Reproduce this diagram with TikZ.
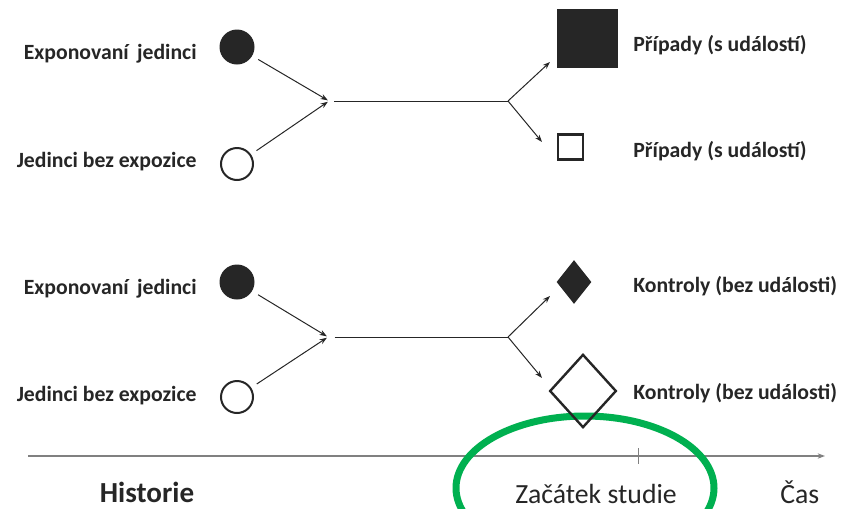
\documentclass[tikz,border=0pt]{standalone}
\usepackage{fontspec}
\setmainfont{Carlito}
\usepackage{xcolor}
\usetikzlibrary{arrows.meta,shapes.geometric}

\definecolor{ink}{RGB}{38,38,38}
\definecolor{axisgray}{RGB}{128,128,128}
\definecolor{ringgreen}{RGB}{0,176,80}

\begin{document}
\begin{tikzpicture}[
  x=0.75pt, y=-0.75pt, % pixel grid
  >={Stealth[length=5.5pt,width=4pt]}, % arrow head style
  semithick % line style
  ]

  \tikzstyle{grouplabel}=[
    font=\fontsize{16.3}{19}\selectfont\bfseries,
    text=ink,
    inner sep=0pt
  ]
  \tikzstyle{bigtext}=[font=\fontsize{20.8}{24}\selectfont, text=ink, inner sep=0pt]
  \tikzstyle{fullcirc}=[circle, fill=ink, minimum size=26.25pt, inner sep=0pt]
  \tikzstyle{emptycirc}=[circle, draw=ink, line width=1.5pt, minimum size=24pt, inner sep=0pt]
  \tikzstyle{link}=[draw=ink, line width=0.75pt]

\useasboundingbox (0,0) rectangle (850,508);

% time axis and highlight
\coordinate (axisL) at (28,456);
\coordinate (axisR) at (825,456);
\coordinate (tickT) at (638,448);
\coordinate (tickB) at (638,464);
\path (axisL) edge[->, draw=axisgray, line width=1.1pt] (axisR);
\path (tickT) edge[draw=axisgray, line width=0.75pt] (tickB);
\draw [ringgreen, line width=5.25pt] (585,488) ellipse [x radius=129, y radius=72];

\node[bigtext, font=\fontsize{21.8}{26}\selectfont\bfseries, anchor=base] (hist) at (147,502) {Historie};
\node[bigtext, anchor=base] (start) at (596,503) {Začátek studie};
\node[bigtext, anchor=base west] (time) at (780,503) {Čas};

% cases
\node[grouplabel, anchor=base east] (E1) at (197,59) {Exponovaní\hspace{0.38em}jedinci};
\node[grouplabel, anchor=base east] (N1) at (197,167) {Jedinci bez expozice};
\node[fullcirc] (e1) at (237,47) {};
\node[emptycirc] (n1) at (237,164) {};
\coordinate (j1) at (329,101);
\coordinate (b1) at (508,101);
\coordinate (t1) at (550,62);
\coordinate (t2) at (542,142);
\node[rectangle, fill=ink, minimum width=45.75pt, minimum height=44.25pt, inner sep=0pt] (c1) at (587.5,38.5) {};
\node[rectangle, draw=ink, line width=2.2pt, minimum size=18.75pt, inner sep=0pt] (c2) at (570.5,147) {};
\node[grouplabel, anchor=base west] (C1) at (633,51) {Případy (s událostí)};
\node[grouplabel, anchor=base west] (C2) at (633,157) {Případy (s událostí)};

 \path (e1) edge[->, link, shorten <=5pt, shorten >=1pt] (j1);
 \path (n1) edge[->, link, shorten <=5pt, shorten >=1pt] (j1);
 \path (j1) edge[link, shorten <=4pt] (b1);
 \path (b1) edge[->, link] (t1);
 \path (b1) edge[->, link] (t2);

% controls
\node[grouplabel, anchor=base east] (E2) at (197,294) {Exponovaní\hspace{0.38em}jedinci};
\node[grouplabel, anchor=base east] (N2) at (197,401) {Jedinci bez expozice};
\node[fullcirc] (e2) at (237,282) {};
\node[emptycirc] (n2) at (237,397) {};
\coordinate (j2) at (328,337);
\coordinate (b2) at (508,337);
\coordinate (t3) at (550,296);
\coordinate (t4) at (542,378);
\node[diamond, fill=ink, minimum width=26.25pt, minimum height=33pt, inner sep=0pt] (k1) at (574,282) {};
\node[diamond, draw=ink, line width=1.8pt, minimum width=50pt, minimum height=55pt, inner sep=0pt] (k2) at (583,391) {};
\node[grouplabel, anchor=base west] (K1) at (633,292) {Kontroly (bez události)};
\node[grouplabel, anchor=base west] (K2) at (633,399) {Kontroly (bez události)};

 \path (e2) edge[->, link, shorten <=5pt, shorten >=1pt] (j2);
 \path (n2) edge[->, link, shorten <=5pt, shorten >=1pt] (j2);
 \path (j2) edge[link, shorten <=5pt] (b2);
 \path (b2) edge[->, link] (t3);
 \path (b2) edge[->, link] (t4);
\end{tikzpicture}
\end{document}
